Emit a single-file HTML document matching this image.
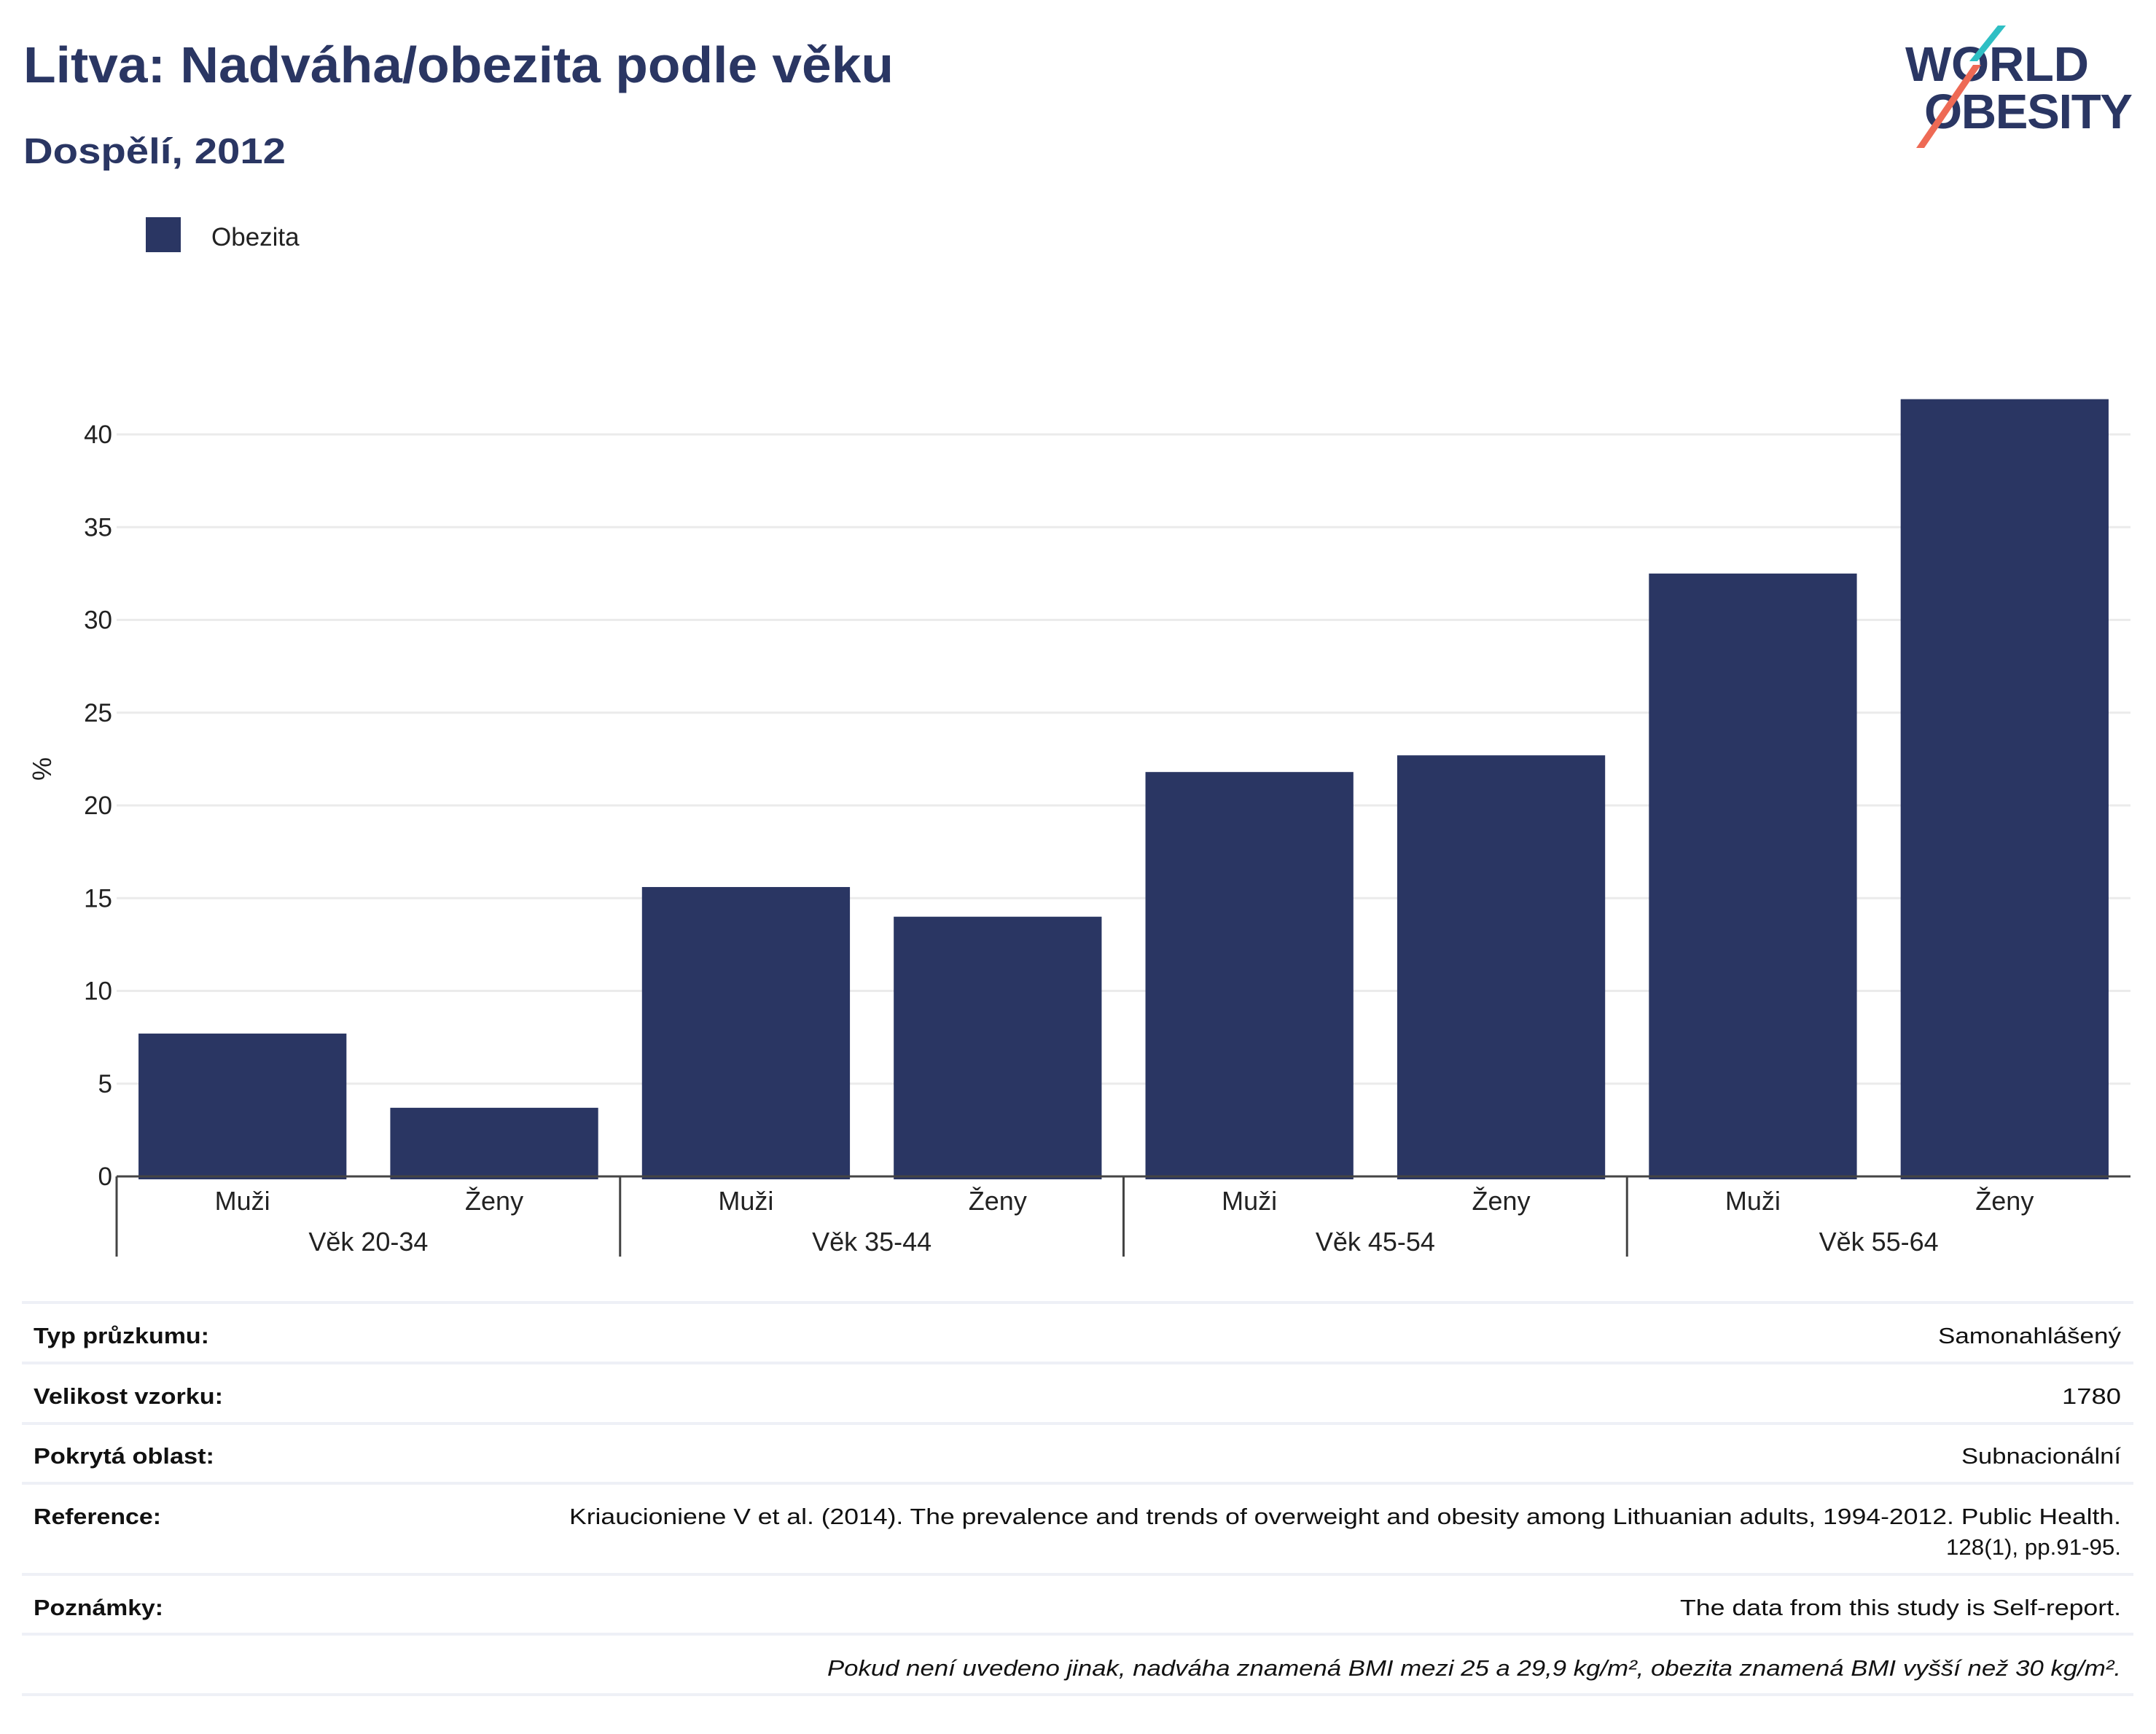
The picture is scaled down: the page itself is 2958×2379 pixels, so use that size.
<!DOCTYPE html>
<html><head><meta charset="utf-8">
<style>
html,body{margin:0;padding:0;background:#fff;}
svg{display:block;font-family:"Liberation Sans",sans-serif;}
</style></head>
<body>
<svg id="chart" width="2958" height="2379" viewBox="0 0 2958 2379" xmlns="http://www.w3.org/2000/svg">
<text x="32" y="113" font-size="70" font-weight="bold" fill="#2a3663" textLength="1194" lengthAdjust="spacingAndGlyphs">Litva: Nadváha/obezita podle věku</text>
<text x="32" y="224" font-size="49" font-weight="bold" fill="#2a3663" textLength="360" lengthAdjust="spacingAndGlyphs">Dospělí, 2012</text>
<g>
<text x="2614" y="111" font-size="67" font-weight="bold" fill="#2a3663" textLength="252">WORLD</text>
<text x="2640" y="176" font-size="67" font-weight="bold" fill="#2a3663" textLength="286">OBESITY</text>
<polygon points="2741,35 2752,35 2713,84 2702,84" fill="#2fbfc4"/>
<polygon points="2707,89 2718,89 2640,203 2629,203" fill="#ee6a55"/>
</g>
<g>
<rect x="200" y="298" width="48" height="48" fill="#2a3663"/>
<text x="290" y="337" font-size="35" fill="#222">Obezita</text>
</g>
<g id="grid"></g>
<g id="bars"></g>
<g id="xaxis"></g>
<text transform="translate(70,1055) rotate(-90)" text-anchor="middle" font-size="36" fill="#222">%</text>
<g font-size="31" fill="#111">
<g stroke="#eef0f6" stroke-width="4">
<line x1="30" x2="2927" y1="1787" y2="1787"/><line x1="30" x2="2927" y1="1870" y2="1870"/><line x1="30" x2="2927" y1="1953" y2="1953"/><line x1="30" x2="2927" y1="2035" y2="2035"/><line x1="30" x2="2927" y1="2160" y2="2160"/><line x1="30" x2="2927" y1="2242" y2="2242"/><line x1="30" x2="2927" y1="2325" y2="2325"/>
</g>
<g font-weight="bold">
<text x="46" y="1843" textLength="241" lengthAdjust="spacingAndGlyphs">Typ průzkumu:</text>
<text x="46" y="1926" textLength="260" lengthAdjust="spacingAndGlyphs">Velikost vzorku:</text>
<text x="46" y="2008" textLength="248" lengthAdjust="spacingAndGlyphs">Pokrytá oblast:</text>
<text x="46" y="2091" textLength="175" lengthAdjust="spacingAndGlyphs">Reference:</text>
<text x="46" y="2216" textLength="178" lengthAdjust="spacingAndGlyphs">Poznámky:</text>
</g>
<g text-anchor="end">
<text x="2910" y="1843" textLength="251" lengthAdjust="spacingAndGlyphs">Samonahlášený</text>
<text x="2910" y="1926" textLength="81" lengthAdjust="spacingAndGlyphs">1780</text>
<text x="2910" y="2008" textLength="219" lengthAdjust="spacingAndGlyphs">Subnacionální</text>
<text x="2910" y="2091" textLength="2129" lengthAdjust="spacingAndGlyphs">Kriaucioniene V et al. (2014). The prevalence and trends of overweight and obesity among Lithuanian adults, 1994-2012. Public Health.</text>
<text x="2910" y="2133" textLength="240" lengthAdjust="spacingAndGlyphs">128(1), pp.91-95.</text>
<text x="2910" y="2216" textLength="605" lengthAdjust="spacingAndGlyphs">The data from this study is Self-report.</text>
<text x="2910" y="2299" font-style="italic" textLength="1775" lengthAdjust="spacingAndGlyphs">Pokud není uvedeno jinak, nadváha znamená BMI mezi 25 a 29,9 kg/m², obezita znamená BMI vyšší než 30 kg/m².</text>
</g>
</g>
</svg>
<script>
const categories = ["Muži","Ženy","Muži","Ženy","Muži","Ženy","Muži","Ženy"];
const groups = ["Věk 20-34","Věk 35-44","Věk 45-54","Věk 55-64"];
const obesityValues = [7.7, 3.7, 15.6, 14.0, 21.8, 22.7, 32.5, 41.9];
const yTicks = [0,5,10,15,20,25,30,35,40];

const NS = "http://www.w3.org/2000/svg";
const x0 = 160, x1 = 2923, yZero = 1614, y40 = 596;
const yScale = v => yZero - (v/40)*(yZero - y40);
const band = (x1 - x0)/categories.length;
const xBand = i => x0 + i*band;
function mk(tag, attrs, parent){const e=document.createElementNS(NS,tag);for(const k in attrs)e.setAttribute(k,attrs[k]);parent.appendChild(e);return e;}

const grid = document.getElementById('grid');
yTicks.forEach(t=>{
  if(t>0){
    const l = mk('line',{x1:x0,x2:x1,y1:yScale(t),y2:yScale(t),stroke:'#ebebeb','stroke-width':3},grid);
    
    
  }
  const tx = mk('text',{x:154,y:yScale(t)+12,'text-anchor':'end','font-size':35,fill:'#222'},grid);
  tx.textContent = t;
  
  
});

const bars = document.getElementById('bars');
const pad = band*0.087;
obesityValues.forEach((v,i)=>{
  const r = mk('rect',{x:xBand(i)+pad,y:yScale(v),width:band-2*pad,height:yZero+4-yScale(v),fill:'#2a3663'},bars);
  
  
});

const xa = document.getElementById('xaxis');
const ax = mk('line',{x1:x0,x2:x1,y1:yZero,y2:yZero,stroke:'#444','stroke-width':3},xa);


categories.forEach((c,i)=>{
  const t = mk('text',{x:xBand(i)+band/2,y:1660,'text-anchor':'middle','font-size':36,fill:'#222'},xa);
  t.textContent=c;
  
  
});
groups.forEach((g,j)=>{
  const t = mk('text',{x:xBand(j*2)+band,y:1716,'text-anchor':'middle','font-size':36,fill:'#222'},xa);
  t.textContent=g;
  
  
  const d = mk('line',{x1:xBand(j*2),x2:xBand(j*2),y1:yZero,y2:1724,stroke:'#444','stroke-width':3},xa);
  
  
});
</script>
</body></html>
